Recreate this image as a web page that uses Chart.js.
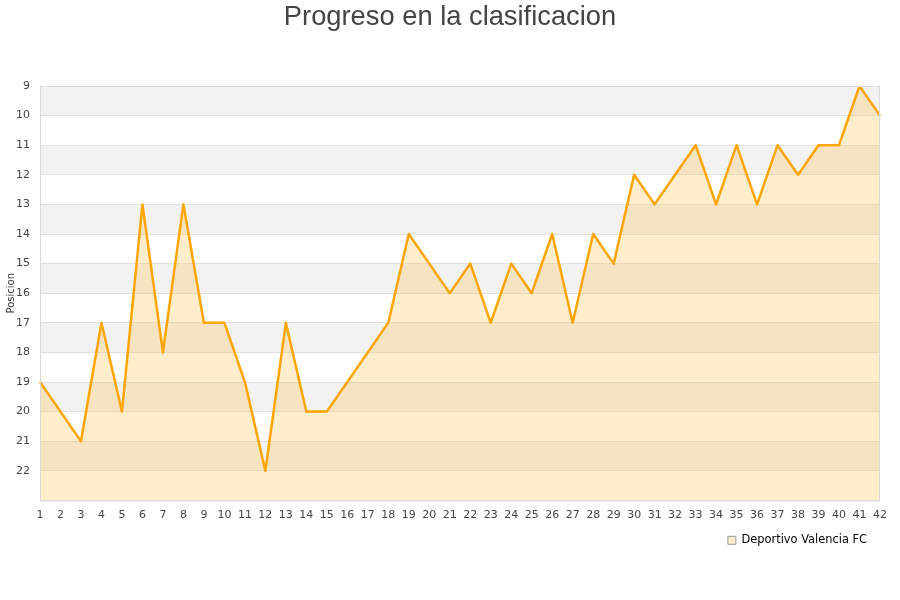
<!DOCTYPE html>
<html lang="es">
<head>
    <meta charset="UTF-8">
    <title>Progreso en la clasificacion</title>
    <script src="https://cdn.jsdelivr.net/npm/chart.js"></script>
    <style>
        body { margin: 0; padding: 0; background: #fff; }
        #wrap { width: 900px; height: 600px; }
    </style>
</head>
<body>
    <div id="wrap"><canvas id="chart"></canvas></div>
    <script>
        // datos de la grafica
        const jornadas = [];
        for (let j = 1; j <= 42; j++) jornadas.push(String(j));
        const posiciones = [19, 20, 21, 17, 20, 13, 18, 13, 17, 17,
                            19, 22, 17, 20, 20, 19, 18, 17, 14, 15,
                            16, 15, 17, 15, 16, 14, 17, 14, 15, 12,
                            13, 12, 11, 13, 11, 13, 11, 12, 11, 11,
                            9, 10];
        const equipo = 'Deportivo Valencia FC';
        const titulo = 'Progreso en la clasificacion';
        const posMin = 9;
        const posMax = 23;

        // franjas grises alternas, borde del area y titulo centrado en el lienzo
        const bandsPlugin = {
            id: 'bands',
            beforeDraw(chart) {
                const { ctx, chartArea, scales } = chart;
                const y = scales.y;
                ctx.save();
                ctx.fillStyle = '#f2f2f2';
                for (let v = posMin; v < posMax - 1; v += 2) {
                    const top = y.getPixelForValue(v);
                    const bot = y.getPixelForValue(v + 1);
                    ctx.fillRect(chartArea.left, top, chartArea.right - chartArea.left, bot - top);
                }
                ctx.restore();
            },
            afterDatasetsDraw(chart) {
                const { ctx, chartArea } = chart;
                ctx.save();
                ctx.strokeStyle = '#d9d9d9';
                ctx.lineWidth = 1;
                ctx.strokeRect(chartArea.left + 0.5, chartArea.top + 0.5,
                    chartArea.right - chartArea.left - 1, chartArea.bottom - chartArea.top);
                ctx.restore();
            },
            afterDraw(chart) {
                const ctx = chart.ctx;
                ctx.save();
                ctx.font = '27.3px "Liberation Sans"';
                ctx.fillStyle = '#444';
                ctx.textAlign = 'center';
                ctx.textBaseline = 'alphabetic';
                ctx.fillText(titulo, chart.width / 2, 25);
                ctx.restore();
            }
        };

        const ctx = document.getElementById('chart').getContext('2d');
        const chart = new Chart(ctx, {
            type: 'line',
            data: {
                labels: jornadas,
                datasets: [{
                    label: equipo,
                    data: posiciones,
                    borderColor: '#ffa500',
                    borderWidth: 2.5,
                    borderJoinStyle: 'round',
                    backgroundColor: 'rgba(255, 184, 50, 0.25)',
                    fill: { value: posMax },
                    pointRadius: 0,
                    tension: 0
                }]
            },
            options: {
                responsive: true,
                maintainAspectRatio: false,
                animation: false,
                layout: { padding: { left: 0, right: 20, top: 86, bottom: 44 } },
                plugins: {
                    title: { display: false },
                    legend: {
                        position: 'bottom',
                        align: 'end',
                        labels: {
                            boxWidth: 8,
                            boxHeight: 8,
                            padding: 13,
                            color: '#000',
                            font: { family: 'DejaVu Sans', size: 11.4 },
                            generateLabels() {
                                return [{
                                    text: equipo,
                                    fillStyle: '#ffeccc',
                                    strokeStyle: '#999',
                                    lineWidth: 1,
                                    datasetIndex: 0
                                }];
                            }
                        }
                    },
                    tooltip: { enabled: false }
                },
                scales: {
                    x: {
                        offset: false,
                        grid: { display: false },
                        border: { display: false },
                        ticks: {
                            color: '#444',
                            font: { family: 'DejaVu Sans', size: 11 },
                            maxRotation: 0,
                            autoSkip: false,
                            padding: 0
                        }
                    },
                    y: {
                        reverse: true,
                        min: posMin,
                        max: posMax,
                        grid: { color: '#e0e0e0', drawTicks: false },
                        border: { display: false },
                        title: {
                            display: true,
                            text: 'Posicion',
                            color: '#333',
                            font: { family: 'DejaVu Sans', size: 10 },
                            padding: { top: 5, bottom: 0 }
                        },
                        ticks: {
                            stepSize: 1,
                            color: '#444',
                            font: { family: 'DejaVu Sans', size: 11 },
                            padding: 10,
                            callback: (v) => (v >= posMax ? '' : v)
                        },
                        afterFit(scale) { scale.width = 40; }
                    }
                }
            },
            plugins: [bandsPlugin]
        });
    </script>
</body>
</html>
